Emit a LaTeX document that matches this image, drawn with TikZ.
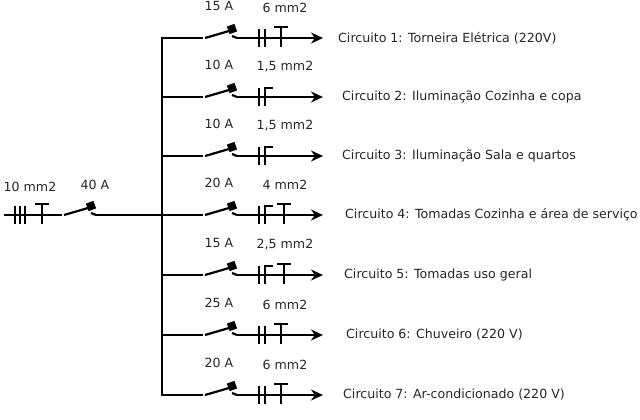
\documentclass[tikz,border=0pt]{standalone}
\usepackage{fontspec}
\setmainfont{DejaVu Sans}
\usetikzlibrary{arrows.meta}
\newcommand\phTick[2]{\draw[wire] (#1,#2-9)--(#1,#2+9);}
\newcommand\neuTick[2]{\draw[wire] (#1,#2+9)--(#1,#2-9)--(#1+8,#2-9);}
\newcommand\gndTick[2]{\draw[wire] (#1,#2+9)--(#1,#2-11) (#1-7,#2-11)--(#1+7,#2-11);}
\newcommand\brk[2]{%
 \draw[wire] (#1,#2)--(#1+24,#2-7);
 \fill[rotate around={20:(#1+27,#2-9)}] (#1+23,#2-13) rectangle (#1+31,#2-5);
 \draw[wire] (#1+27,#2-2)--(#1+32,#2);}
\begin{document}
\begin{tikzpicture}[x=1pt,y=-1pt,wire/.style={line width=2.2pt},
 lab/.style={font=\fontsize{12.6}{14}\selectfont,inner sep=0,anchor=west,text=black!85},
 small/.style={font=\fontsize{12.6}{14}\selectfont,inner sep=0,text=black!85}]
\useasboundingbox (0,0) rectangle (640,420);
% bus
\draw[wire] (170,38)--(162,38)--(162,395)--(170,395);
% main
\draw[wire] (4,215)--(62,215);
\brk{64}{215}
\draw[wire] (96,215)--(162,215);
\phTick{15}{215}\phTick{20}{215}\phTick{25}{215}\gndTick{42}{215}
\node[small] (m1) at (30,187) {10 mm2};
\node[small] (m2) at (95,185) {40 A};
% circuits
\foreach \y/\a/\s/\lx/\t/\k in {
 38/15 A/6 mm2/338/{Circuito 1: Torneira Elétrica (220V)}/1,
 97/10 A/{1,5 mm2}/342/{Circuito 2: Iluminação Cozinha e copa}/2,
 156/10 A/{1,5 mm2}/342/{Circuito 3: Iluminação Sala e quartos}/2,
 215/20 A/4 mm2/345/{Circuito 4: Tomadas Cozinha e área de serviço}/3,
 275/15 A/{2,5 mm2}/344/{Circuito 5: Tomadas uso geral}/3,
 335/25 A/6 mm2/346/{Circuito 6: Chuveiro (220 V)}/1,
 395/20 A/6 mm2/343/{Circuito 7: Ar-condicionado (220 V)}/1}{
 \draw[wire] (162,\y)--(203,\y);
 \brk{205}{\y}
 \draw[wire,-{Stealth[length=12pt,width=11pt]}] (237,\y)--(323,\y);
 \node[small] at (219,\y-32) {\a};
 \node[small] at (285,\y-30) {\s};
 \node[lab] at (\lx,\y) {\t};
 \ifnum\k=1 \phTick{259}{\y}\phTick{265}{\y}\gndTick{281}{\y}\fi
 \ifnum\k=2 \phTick{259}{\y}\neuTick{265}{\y}\fi
 \ifnum\k=3 \phTick{259}{\y}\neuTick{265}{\y}\gndTick{284}{\y}\fi
}
\end{tikzpicture}
\end{document}
